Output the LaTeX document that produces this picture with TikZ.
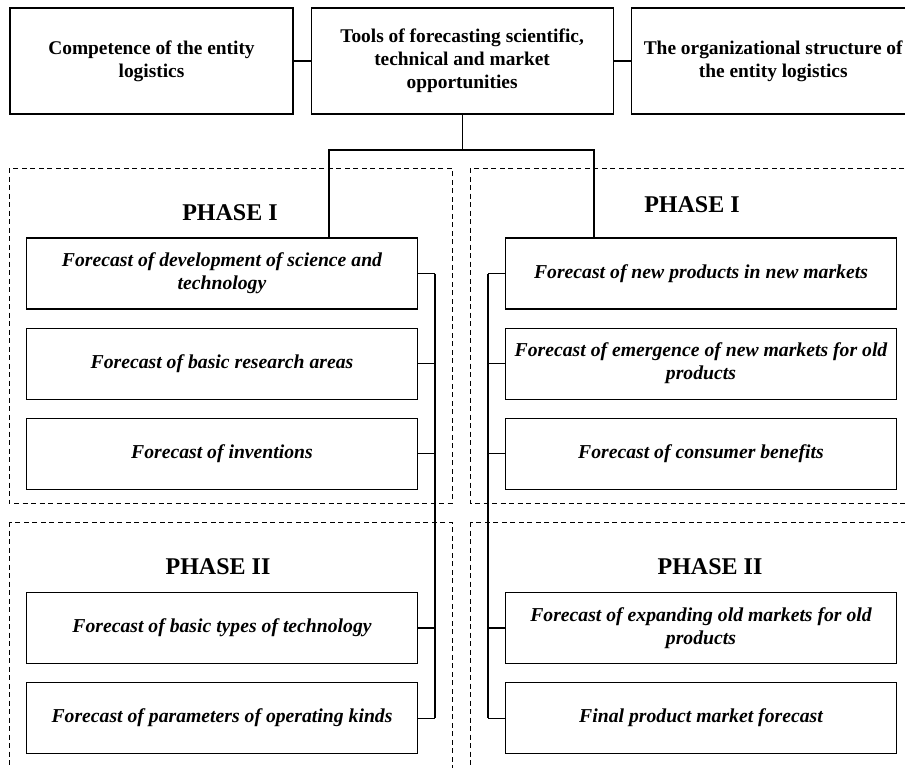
\documentclass[tikz,border=0pt]{standalone}
\usepackage{fontspec}
\setmainfont{Liberation Serif}
\usetikzlibrary{positioning}

\begin{document}
\begin{tikzpicture}[x=1pt, y=-1pt,
      topbox/.style={draw, line width=1.1pt, align=center, minimum height=106pt, inner sep=2pt,
                     font=\fontsize{19.4}{23}\selectfont\bfseries},
      fcbox/.style={draw, line width=1.1pt, align=center, minimum width=391pt, minimum height=71pt,
                    inner sep=2pt, font=\fontsize{19.7}{23}\selectfont\bfseries\itshape},
      frame/.style={draw, line width=0.7pt, dash pattern=on 5pt off 3.5pt},
      phase/.style={font=\fontsize{24}{27}\selectfont\bfseries},
      link/.style={line width=1.1pt}]
    \useasboundingbox (0,0) rectangle (905,768);
    % dashed phase frames
    \draw[frame] (9,168) rectangle (452,503);
    \draw[frame] (470,168) rectangle (930,503);
    \draw[frame] (9,522) rectangle (452,790);
    \draw[frame] (470,522) rectangle (930,790);
    % top row
    \node[topbox, minimum width=283pt] (comp) at (151.5,61) {Competence of the entity\\ logistics};
    \node[topbox, minimum width=302pt, right=17pt of comp] (tools) {Tools of forecasting scientific,\\ technical and market\\ opportunities};
    \node[topbox, minimum width=284pt, right=17pt of tools] (org) {The organizational structure of\\ the entity logistics};
    % phase titles
    \node[phase] (phL1) at (230,213) {PHASE I};
    \node[phase] (phR1) at (692,205) {PHASE I};
    \node[phase] (phL2) at (218,567) {PHASE II};
    \node[phase] (phR2) at (710,567) {PHASE II};
    % left column: science and technology
    \node[fcbox] (sci) at (222,273.5) {Forecast of development of science and\\ technology};
    \node[fcbox, below=18pt of sci] (basic) {Forecast of basic research areas};
    \node[fcbox, below=18pt of basic] (invent) {Forecast of inventions};
    \node[fcbox] (types) at (222,628) {Forecast of basic types of technology};
    \node[fcbox, below=18pt of types] (kinds) {Forecast of parameters of operating kinds};
    % right column: markets
    \node[fcbox] (newprod) at (701,273.5) {Forecast of new products in new markets};
    \node[fcbox, below=18pt of newprod] (emerg) {Forecast of emergence of new markets for old\\ products};
    \node[fcbox, below=18pt of emerg] (benef) {Forecast of consumer benefits};
    \node[fcbox] (expand) at (701,628) {Forecast of expanding old markets for old\\ products};
    \node[fcbox, below=18pt of expand] (final) {Final product market forecast};
    % connectors
    \coordinate (jl) at (329,150);
    \coordinate (jr) at (594,150);
    \coordinate (split) at (tools.south |- jl);
    \coordinate (busL) at (435,0);
    \coordinate (busR) at (488,0);
    \draw[link] (comp) -- (tools);
    \draw[link] (tools) -- (org);
    \draw[link] (tools.south) -- (split);
    \draw[link] (jl |- sci.north) -- (jl) -- (jr) -- (jr |- newprod.north);
    \foreach \b in {sci, basic, invent, types, kinds}
      \draw[link] (\b.east) -- (\b.east -| busL);
    \draw[link] (sci.east -| busL) -- (kinds.east -| busL);
    \foreach \b in {newprod, emerg, benef, expand, final}
      \draw[link] (\b.west) -- (\b.west -| busR);
    \draw[link] (newprod.west -| busR) -- (final.west -| busR);
\end{tikzpicture}
\end{document}
